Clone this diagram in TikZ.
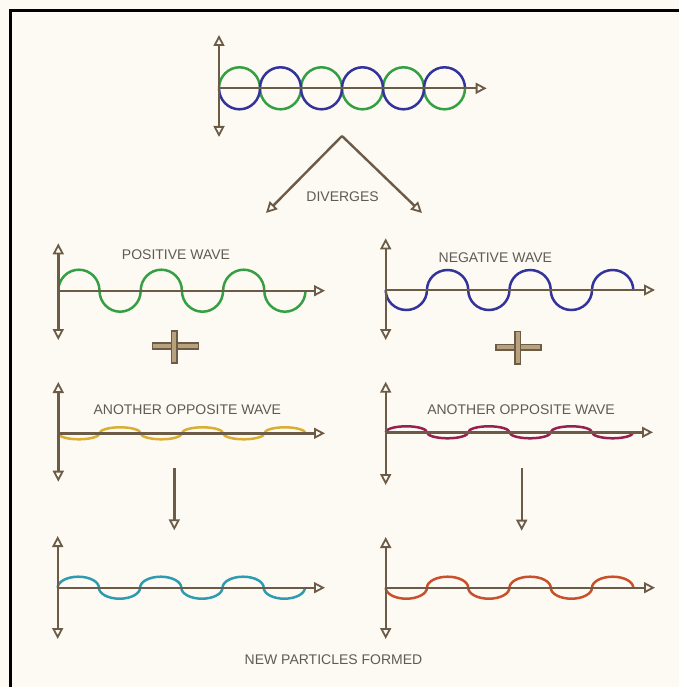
\documentclass[tikz,border=0pt]{standalone}
\usepackage{fontspec}
\setmainfont{Liberation Sans}
\usetikzlibrary{arrows.meta}
\definecolor{bg}{HTML}{FDFAF4}
\definecolor{axisc}{HTML}{6C5B46}
\definecolor{tanc}{HTML}{B8A27E}
\definecolor{txtc}{HTML}{5F5A54}
\definecolor{wgreen}{HTML}{35A043}
\definecolor{wblue}{HTML}{33339C}
\definecolor{wyellow}{HTML}{D9AE33}
\definecolor{wmaroon}{HTML}{962050}
\definecolor{wcyan}{HTML}{2E9CB0}
\definecolor{worange}{HTML}{C8502A}
\begin{document}
\begin{tikzpicture}[x=1pt,y=1pt,
  >={Triangle[open,length=11pt,width=11pt,line width=1.8pt]},
  axisline/.style={draw=axisc,line width=2.4pt},
  wv/.style={line width=2.5pt},
  plusbar/.style={fill=tanc,draw=axisc,line width=1.5pt},
  lbl/.style={text=txtc,font=\fontsize{14}{16}\selectfont,anchor=base,inner sep=0pt}]
\useasboundingbox (0,0) rectangle (679,-687);
\fill[bg] (0,0) rectangle (679,-687);
\draw[line width=3pt,black] (679,-10.8) -- (10.8,-10.8) -- (10.8,-687);

% ---------- top panel ----------
\coordinate (tO) at (219,-88.3);
\coordinate (tT) at (219,-35);
\coordinate (tB) at (219,-137);
\coordinate (tR) at (486.7,-88.3);
\draw[wv,wgreen] (tO) \foreach \k in {1,2,3}{
  arc[start angle=180,end angle=0,x radius=20.5,y radius=21]
  arc[start angle=180,end angle=360,x radius=20.5,y radius=21]};
\draw[wv,wblue] (tO) \foreach \k in {1,2,3}{
  arc[start angle=180,end angle=360,x radius=20.5,y radius=21]
  arc[start angle=180,end angle=0,x radius=20.5,y radius=21]};
\draw[axisline,<->] (tT) -- (tB);
\draw[axisline,->] (tO) -- (tR);

% diverges
\coordinate (apex) at (342,-136);
\coordinate (divL) at (266,-213);
\coordinate (divR) at (422,-213);
\draw[axisline,->] (apex) -- (divL);
\draw[axisline,->] (apex) -- (divR);
\node[lbl] (diverges) at (342.6,-201) {DIVERGES};

% ---------- left column ----------
% positive wave
\coordinate (aO) at (58.3,-290.7);
\coordinate (aT) at (58.3,-243.3);
\coordinate (aB) at (58.3,-340);
\coordinate (aR) at (325,-290.7);
\draw[wv,wgreen] (aO) \foreach \k in {1,2,3}{
  arc[start angle=180,end angle=0,x radius=20.6,y radius=21]
  arc[start angle=180,end angle=360,x radius=20.6,y radius=21]};
\draw[axisline,<->] (aT) -- (aB);
\draw[axisline,->] (aO) -- (aR);
\node[lbl] (poslbl) at (176,-259) {POSITIVE WAVE};

% plus left
\draw[plusbar] (152.7,-343.2) rectangle (198.3,-348.8);
\draw[plusbar] (171.5,-331) rectangle (177.2,-363);

% another opposite wave (left)
\coordinate (bO) at (58.3,-433.3);
\coordinate (bT) at (58.3,-382);
\coordinate (bB) at (58.3,-481.7);
\coordinate (bR) at (325,-433.3);
\draw[wv,wyellow] (bO) \foreach \k in {1,2,3}{
  arc[start angle=180,end angle=360,x radius=20.6,y radius=6]
  arc[start angle=180,end angle=0,x radius=20.6,y radius=6]};
\draw[axisline,<->] (bT) -- (bB);
\draw[axisline,->] (bO) -- (bR);
\node[lbl] (anolblL) at (187.3,-414) {ANOTHER OPPOSITE WAVE};

% down arrow left
\coordinate (dLs) at (174.3,-468);
\coordinate (dLe) at (174.3,-530.3);
\draw[axisline,->] (dLs) -- (dLe);

% result left
\coordinate (cO) at (57.7,-587.7);
\coordinate (cT) at (57.7,-536);
\coordinate (cB) at (57.7,-639);
\coordinate (cR) at (325,-587.7);
\draw[wv,wcyan] (cO) \foreach \k in {1,2,3}{
  arc[start angle=180,end angle=0,x radius=20.6,y radius=11]
  arc[start angle=180,end angle=360,x radius=20.6,y radius=11]};
\draw[axisline,<->] (cT) -- (cB);
\draw[axisline,->] (cO) -- (cR);

% ---------- right column ----------
% negative wave
\coordinate (eO) at (385.7,-290);
\coordinate (eT) at (385.7,-238.3);
\coordinate (eB) at (385.7,-340);
\coordinate (eR) at (655,-290);
\draw[wv,wblue] (eO) \foreach \k in {1,2,3}{
  arc[start angle=180,end angle=360,x radius=20.63,y radius=20]
  arc[start angle=180,end angle=0,x radius=20.63,y radius=20]};
\draw[axisline,<->] (eT) -- (eB);
\draw[axisline,->] (eO) -- (eR);
\node[lbl] (neglbl) at (495.3,-262.5) {NEGATIVE WAVE};

% plus right
\draw[plusbar] (496,-344.5) rectangle (541,-350.2);
\draw[plusbar] (514.9,-331.7) rectangle (520.5,-364);

% another opposite wave (right)
\coordinate (fO) at (385.7,-432.3);
\coordinate (fT) at (385.7,-381.7);
\coordinate (fB) at (385.7,-485);
\coordinate (fR) at (653,-432.3);
\draw[wv,wmaroon] (fO) \foreach \k in {1,2,3}{
  arc[start angle=180,end angle=0,x radius=20.63,y radius=6]
  arc[start angle=180,end angle=360,x radius=20.63,y radius=6]};
\draw[axisline,<->] (fT) -- (fB);
\draw[axisline,->] (fO) -- (fR);
\node[lbl] (anolblR) at (521,-414) {ANOTHER OPPOSITE WAVE};

% down arrow right
\coordinate (dRs) at (521.7,-468);
\coordinate (dRe) at (521.7,-530.7);
\draw[axisline,->] (dRs) -- (dRe);

% result right
\coordinate (gO) at (385.7,-587.7);
\coordinate (gT) at (385.7,-537);
\coordinate (gB) at (385.7,-639);
\coordinate (gR) at (655,-587.7);
\draw[wv,worange] (gO) \foreach \k in {1,2,3}{
  arc[start angle=180,end angle=360,x radius=20.63,y radius=11]
  arc[start angle=180,end angle=0,x radius=20.63,y radius=11]};
\draw[axisline,<->] (gT) -- (gB);
\draw[axisline,->] (gO) -- (gR);

\node[lbl] (newlbl) at (333.5,-664.3) {NEW PARTICLES FORMED};
\end{tikzpicture}
\end{document}
